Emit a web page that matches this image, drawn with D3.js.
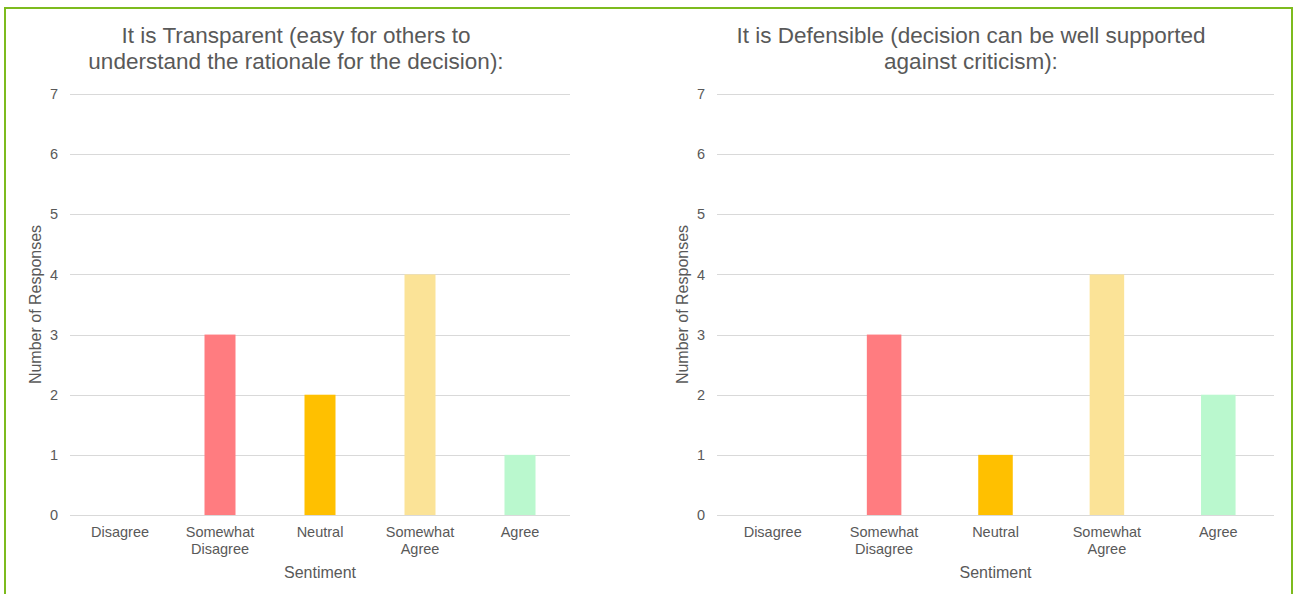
<!DOCTYPE html>
<html>
<head>
<meta charset="utf-8">
<script src="https://cdn.jsdelivr.net/npm/d3@7"></script>
<style>
  html, body { margin: 0; padding: 0; background: #fff; }
  svg { display: block; font-family: "Liberation Sans", Arial, sans-serif; }
</style>
</head>
<body>
<svg id="chart" width="1301" height="594"></svg>
<script>
// Survey response counts per sentiment, one array per question
const categories = ["Disagree", "Somewhat Disagree", "Neutral", "Somewhat Agree", "Agree"];
const transparentCounts = [0, 3, 2, 4, 1];
const defensibleCounts = [0, 3, 1, 4, 2];
const yTicks = [0, 1, 2, 3, 4, 5, 6, 7];
const barColors = ["#FF7C80", "#FF7C80", "#FFC000", "#FBE397", "#BAF8CE"];
const titles = [
  ["It is Transparent (easy for others to", "understand the rationale for the decision):"],
  ["It is Defensible (decision can be well supported", "against criticism):"]
];
const xTitle = "Sentiment";
const yTitle = "Number of Responses";

const svg = d3.select("#chart");
const textColor = "#595959";

// outer frame
svg.append("rect")
  .attr("x", 5).attr("y", 8)
  .attr("width", 1287).attr("height", 600)
  .attr("fill", "none")
  .attr("stroke", "#7DBB1E")
  .attr("stroke-width", 2);

const panels = [
  { values: transparentCounts, title: titles[0], x0: 70, x1: 570, titleX: 296, yTitleX: 41 },
  { values: defensibleCounts, title: titles[1], x0: 717, x1: 1274, titleX: 971, yTitleX: 688 }
];

const yTop = 94, yBottom = 515;

panels.forEach(p => {
  const g = svg.append("g");

  const x = d3.scaleBand().domain(categories).range([p.x0, p.x1]).paddingInner(0.69).paddingOuter(0.345);
  const y = d3.scaleLinear().domain([0, 7]).range([yBottom, yTop]);

  // gridlines
  g.selectAll("line.grid").data(yTicks).join("line")
    .attr("class", "grid")
    .attr("x1", p.x0).attr("x2", p.x1)
    .attr("y1", d => Math.round(y(d)) + 0.5).attr("y2", d => Math.round(y(d)) + 0.5)
    .attr("stroke", "#D9D9D9").attr("stroke-width", 1);

  // y tick labels
  const yAxis = d3.axisLeft(y).tickValues(yTicks).tickFormat(d3.format("d")).tickSize(0).tickPadding(0);
  const ya = g.append("g").attr("transform", `translate(${p.x0 - 12},0)`).call(yAxis);
  ya.select(".domain").remove();
  ya.selectAll("text").attr("fill", textColor).style("font-size", "14.5px")
    .style("font-family", '"Liberation Sans", Arial, sans-serif');

  // bars
  g.selectAll("rect.bar").data(p.values).join("rect")
    .attr("class", "bar")
    .attr("x", (d, i) => x(categories[i]))
    .attr("width", x.bandwidth())
    .attr("y", d => y(d))
    .attr("height", d => y(0) - y(d))
    .attr("fill", (d, i) => barColors[i]);

  // baseline
  g.append("line")
    .attr("x1", p.x0).attr("x2", p.x1)
    .attr("y1", yBottom + 0.5).attr("y2", yBottom + 0.5)
    .attr("stroke", "#D9D9D9");

  // category labels (wrapped on spaces)
  const lab = g.selectAll("text.cat").data(categories).join("text")
    .attr("class", "cat")
    .attr("text-anchor", "middle")
    .attr("fill", textColor)
    .style("font-size", "14.5px")
    .attr("x", d => x(d) + x.bandwidth() / 2)
    .attr("y", 537);
  lab.each(function(d) {
    const words = d.split(" ");
    d3.select(this).selectAll("tspan").data(words).join("tspan")
      .attr("x", d3.select(this).attr("x"))
      .attr("dy", (w, i) => i === 0 ? 0 : 17)
      .text(w => w);
  });

  // axis titles
  g.append("text")
    .attr("x", (p.x0 + p.x1) / 2).attr("y", 578)
    .attr("text-anchor", "middle").attr("fill", textColor)
    .style("font-size", "16px").text(xTitle);

  g.append("text")
    .attr("transform", `translate(${p.yTitleX},${(yTop + yBottom) / 2}) rotate(-90)`)
    .attr("text-anchor", "middle").attr("fill", textColor)
    .style("font-size", "16px").text(yTitle);

  // chart title
  g.append("text")
    .attr("x", p.titleX).attr("y", 43)
    .attr("text-anchor", "middle").attr("fill", textColor)
    .style("font-size", "22.5px")
    .selectAll("tspan").data(p.title).join("tspan")
    .attr("x", p.titleX)
    .attr("dy", (t, i) => i === 0 ? 0 : 26)
    .text(t => t);
});
</script>
</body>
</html>
